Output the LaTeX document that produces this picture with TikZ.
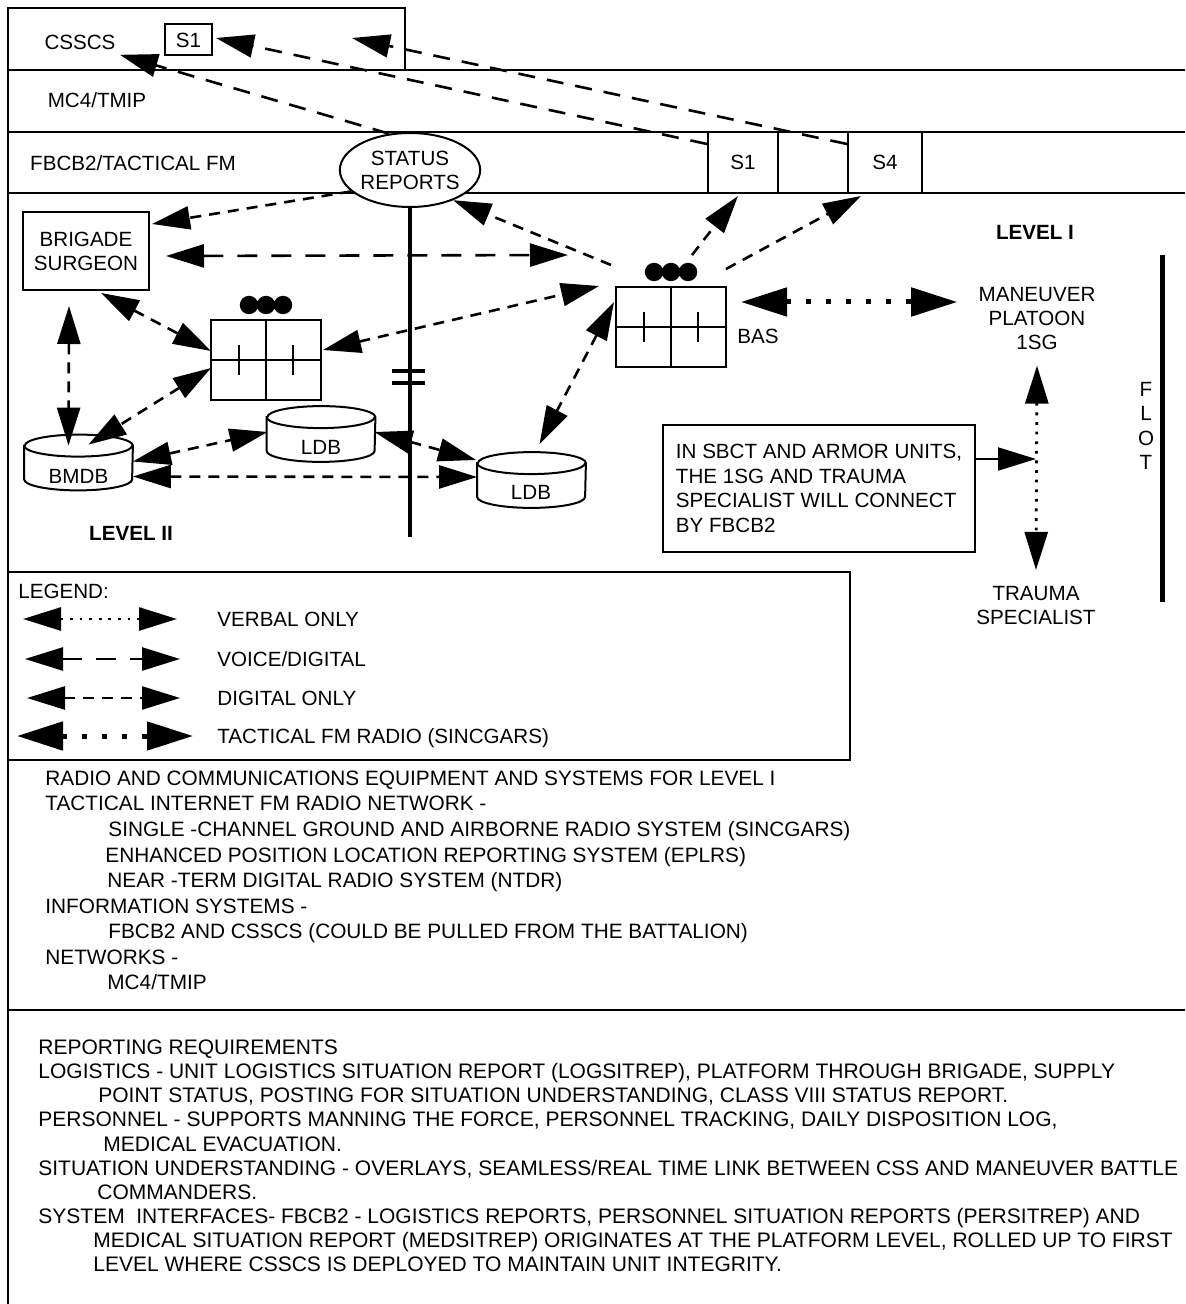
\documentclass[tikz,border=0pt]{standalone}
\usepackage{fontspec}
\setmainfont{Liberation Sans}
\usetikzlibrary{arrows.meta,calc,shapes.geometric}
\newcommand\unitdeco[1]{%
  \draw[line width=1pt] (#1.north) -- (#1.south) (#1.west) -- (#1.east);
  \draw[line width=1pt] ($(#1.center)+(-27,-15)$) -- ($(#1.center)+(-27,15)$);
  \draw[line width=1pt] ($(#1.center)+(27,-15)$) -- ($(#1.center)+(27,15)$);
  \fill ($(#1.north)+(-17,-14)$) circle[radius=4.6pt]
        ($(#1.north)+(0,-14)$) circle[radius=4.6pt]
        ($(#1.north)+(17,-14)$) circle[radius=4.6pt];}
\newcommand\cylshape[1]{%
  \draw[line width=1pt] ($(#1.north west)+(0,11)$) -- ($(#1.south west)+(0,-11)$)
     arc[start angle=180,end angle=360,x radius=27pt,y radius=5.5pt]
     -- ($(#1.north east)+(0,11)$)
     arc[start angle=0,end angle=180,x radius=27pt,y radius=5.5pt] -- cycle;
  \draw[line width=1pt] ($(#1.north west)+(0,11)$)
     arc[start angle=180,end angle=360,x radius=27pt,y radius=5.5pt];}
\begin{document}
\begin{tikzpicture}[x=0.5pt,y=-0.5pt,
  every node/.style={font=\fontsize{10.3}{12}\selectfont, inner sep=0pt},
  txt/.style={anchor=west, text height=7.4pt, text depth=0pt},
  midtxt/.style={txt, font=\fontsize{10.4}{12}\selectfont},
  bottxt/.style={txt, font=\fontsize{10.5}{12}\selectfont},
  lbl/.style={text height=7.4pt, text depth=0pt},
  frame/.style={line width=1pt},
  dig/.style={line width=1.3pt, dash pattern=on 5.5pt off 4pt},
  vd/.style={line width=1.3pt, dash pattern=on 10pt off 7pt},
  tdash/.style={line width=1.3pt, dash pattern=on 8.5pt off 6pt},
  fm/.style={line width=2.5pt, dash pattern=on 2.5pt off 7.5pt},
  verbal/.style={line width=1.4pt, dash pattern=on 1.4pt off 3.4pt},
  one/.style={-{Triangle[length=19pt,width=11.5pt]}},
  two/.style={{Triangle[length=19pt,width=11.5pt]}-{Triangle[length=19pt,width=11.5pt]}},
  twofm/.style={{Triangle[length=23pt,width=14pt]}-{Triangle[length=23pt,width=14pt]}},
  box/.style={draw, line width=1pt},
  unitbox/.style={draw, line width=1pt, minimum width=55pt, minimum height=40pt},
  cylbox/.style={minimum width=54pt, minimum height=27.5pt},
]
\useasboundingbox (0,0) rectangle (1185,1304);
\fill[white] (0,0) rectangle (1185,1304);

% frame
\draw[frame] (8,1304) -- (8,8) -- (405,8) -- (405,70);
\draw[frame] (8,70) -- (1185,70);
\draw[frame] (8,132) -- (1185,132);
\draw[frame] (8,193) -- (1185,193);
\draw[frame] (8,572) -- (850,572) -- (850,760) -- (8,760);
\draw[frame] (8,1010) -- (1185,1010);

% band labels
\node[lbl] (csscs) at (80,42) {CSSCS};
\node[box, minimum width=23.5pt, minimum height=15.5pt] (s1c) at (188.5,40) {S1};
\node[lbl] (mc4) at (97,100) {MC4/TMIP};
\node[lbl] (fbcb) at (133,163) {FBCB2/TACTICAL FM};
\node[box, minimum width=35pt, minimum height=30.5pt] (s1b) at (743,162.5) {S1};
\node[box, minimum width=37pt, minimum height=30.5pt] (s4b) at (885,162.5) {S4};
\coordinate (ctop) at (352,38);

% status reports and vertical line
\coordinate (vbot) at (409,537);
\node[draw, line width=1pt, ellipse, fill=white, minimum width=62pt, minimum height=37pt, align=center] (sr) at (410,170) {STATUS\\REPORTS};
\draw[line width=2.2pt] (sr.south) -- (sr.south |- vbot);
\draw[line width=2.3pt] (392,371) -- (425,371) (392,383) -- (425,383);

% main nodes
\node[box, minimum width=63pt, minimum height=39pt, align=center] (bs) at (86,251) {BRIGADE\\SURGEON};
\node[unitbox] (mc) at (266,360) {};
\unitdeco{mc}
\node[unitbox] (bas) at (671,327) {};
\unitdeco{bas}
\node[lbl] (bast) at (758,336) {BAS};

\node[cylbox] (bmdb) at (78.5,462.5) {};
\cylshape{bmdb}
\node[lbl] (bmdbt) at (78.5,476) {BMDB};
\node[cylbox] (ldb1) at (321,434) {};
\cylshape{ldb1}
\node[lbl] (ldb1t) at (321,447) {LDB};
\node[cylbox] (ldb2) at (531.5,480) {};
\cylshape{ldb2}
\node[lbl] (ldb2t) at (531,492) {LDB};

\node[lbl, font=\fontsize{10.3}{12}\selectfont\bfseries] (lev2) at (131,533) {LEVEL II};
\node[lbl, font=\fontsize{10.3}{12}\selectfont\bfseries] (lev1) at (1035,232) {LEVEL I};

\node[align=center] (mp) at (1037,319) {MANEUVER\\PLATOON\\1SG};
\node[align=center] (tr) at (1036,605.5) {TRAUMA\\SPECIALIST};
\node[align=center, font=\fontsize{10.3}{12.17}\selectfont] (flot) at (1146,426) {F\\L\\O\\T};
\coordinate (flta) at (1162,255);
\coordinate (fltb) at (1162,602);
\draw[line width=2.5pt] (flta) -- (fltb);

\node[box, align=left, minimum width=156pt, minimum height=63.5pt, font=\fontsize{10.3}{12.3}\selectfont] (note) at (819,488.5)
  {IN SBCT AND ARMOR UNITS,\\THE 1SG AND TRAUMA\\SPECIALIST WILL CONNECT\\BY FBCB2};
\coordinate (vmid) at (1036,459);

% connectors
\draw[tdash,one] (sr.120) -- ($(csscs.south east)+(4,5)$);
\draw[tdash,one] ($(s1b.north west)+(0,13)$) -- ($(s1c.east)+(3,-2)$);
\draw[tdash,one] ($(s4b.north west)+(0,13)$) -- (ctop);
\draw[dig,one] (sr.200) -- ($(bs.north east)+(2,13)$);
\draw[vd,two] ($(bs.east)+(16,5)$) -- ($(bas.north west)+(-47,-31)$);
\draw[dig,one] ($(bas.north west)+(-4,-21)$) -- (sr.-35);
\draw[dig,two] ($(mc.east)+(1,-10)$) -- ($(bas.north west)+(-16,0)$);
\draw[dig,one] ($(bas.north)+(21,-31)$) -- ($(s1b.south)+(-5,2)$);
\draw[dig,one] ($(bas.north east)+(-1,-17)$) -- ($(s4b.south west)+(14,2)$);
\draw[dig,two] ($(bas.west)+(-1,-25)$) -- ($(ldb2.north)+(8,-8)$);
\draw[dig,two] ($(bs.south)+(15,2)$) -- ($(mc.west)+(1,-9)$);
\draw[dig,two] ($(bs.south)+(-17,15)$) -- ($(bmdb.north)+(-10,11)$);
\draw[dig,two] ($(mc.west)+(1,8)$) -- ($(bmdb.north)+(10,10)$);
\draw[dig,two] ($(bmdb.east)+(0,-1)$) -- ($(ldb1.west)+(1,-2)$);
\draw[dig,two] ($(bmdb.east)+(0,14)$) -- ($(ldb2.west)+(0,-3)$);
\draw[dig,two] ($(ldb1.east)+(-1,-2)$) -- ($(ldb2.west)+(-1,-20)$);
\draw[fm,twofm] ($(bas.east)+(14,-25)$) -- ($(mp.west)+(-21,-17)$);
\draw[verbal,two] ($(mp.south)+(0,15)$) -- ($(tr.north)+(0,-16)$);
\draw[line width=1pt,one] (note.east |- vmid) -- (vmid);

% legend
\node[txt] (leg) at (18,591) {LEGEND:};
\coordinate (l1a) at (23,619); \coordinate (l1b) at (177,619);
\coordinate (l2a) at (25,659); \coordinate (l2b) at (180,659);
\coordinate (l3a) at (27,698); \coordinate (l3b) at (180,698);
\coordinate (l4a) at (17,736); \coordinate (l4b) at (193,736);
\draw[verbal,two] (l1a) -- (l1b);
\draw[vd,two] (l2a) -- (l2b);
\draw[dig,two] (l3a) -- (l3b);
\draw[fm,twofm] (l4a) -- (l4b);
\node[txt] (lt1) at (217,619) {VERBAL ONLY};
\node[txt] (lt2) at (217,659) {VOICE/DIGITAL};
\node[txt] (lt3) at (217,698) {DIGITAL ONLY};
\node[txt] (lt4) at (217,736) {TACTICAL FM RADIO (SINCGARS)};

% equipment text
\node[midtxt] (e1) at (45,778) {RADIO AND COMMUNICATIONS EQUIPMENT AND SYSTEMS FOR LEVEL I};
\node[midtxt] (e2) at (45,803) {TACTICAL INTERNET FM RADIO NETWORK -};
\node[midtxt] (e3) at (108,829) {SINGLE -CHANNEL GROUND AND AIRBORNE RADIO SYSTEM (SINCGARS)};
\node[midtxt] (e4) at (105,855) {ENHANCED POSITION LOCATION REPORTING SYSTEM (EPLRS)};
\node[midtxt] (e5) at (107,880) {NEAR -TERM DIGITAL RADIO SYSTEM (NTDR)};
\node[midtxt] (e6) at (45,906) {INFORMATION SYSTEMS -};
\node[midtxt] (e7) at (108,931) {FBCB2 AND CSSCS (COULD BE PULLED FROM THE BATTALION)};
\node[midtxt] (e8) at (45,957) {NETWORKS -};
\node[midtxt] (e9) at (107,982) {MC4/TMIP};

% reporting text
\node[bottxt] (r1) at (38,1047) {REPORTING REQUIREMENTS};
\node[bottxt] (r2) at (38,1071) {LOGISTICS - UNIT LOGISTICS SITUATION REPORT (LOGSITREP), PLATFORM THROUGH BRIGADE, SUPPLY};
\node[bottxt] (r3) at (98,1095) {POINT STATUS, POSTING FOR SITUATION UNDERSTANDING, CLASS VIII STATUS REPORT.};
\node[bottxt] (r4) at (38,1119) {PERSONNEL - SUPPORTS MANNING THE FORCE, PERSONNEL TRACKING, DAILY DISPOSITION LOG,};
\node[bottxt] (r5) at (103,1144) {MEDICAL EVACUATION.};
\node[bottxt] (r6) at (38,1168) {SITUATION UNDERSTANDING - OVERLAYS, SEAMLESS/REAL TIME LINK BETWEEN CSS AND MANEUVER BATTLE};
\node[bottxt] (r7) at (97,1192) {COMMANDERS.};
\node[bottxt] (r8) at (38,1216) {SYSTEM\ \ INTERFACES- FBCB2 - LOGISTICS REPORTS, PERSONNEL SITUATION REPORTS (PERSITREP) AND};
\node[bottxt] (r9) at (93,1240) {MEDICAL SITUATION REPORT (MEDSITREP) ORIGINATES AT THE PLATFORM LEVEL, ROLLED UP TO FIRST};
\node[bottxt] (r10) at (93,1264) {LEVEL WHERE CSSCS IS DEPLOYED TO MAINTAIN UNIT INTEGRITY.};
\end{tikzpicture}
\end{document}
